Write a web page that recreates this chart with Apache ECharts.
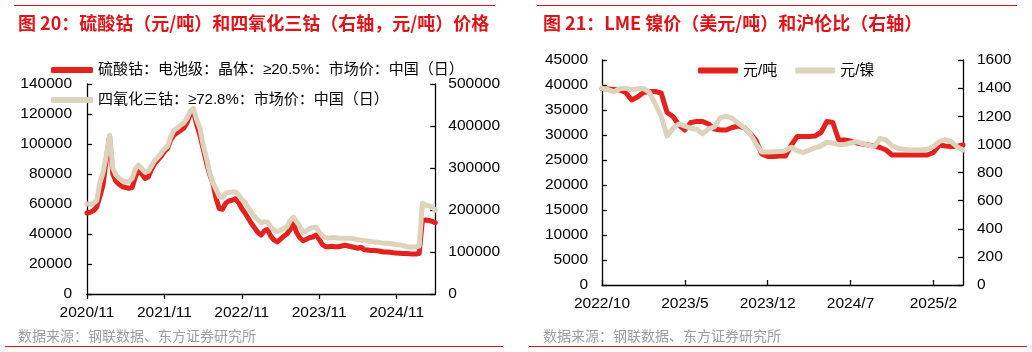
<!DOCTYPE html>
<html>
<head>
<meta charset="utf-8">
<script src="https://cdn.jsdelivr.net/npm/echarts@6/dist/echarts.min.js"></script>
<style>
  html, body { margin: 0; padding: 0; background: #fff; }
  #left { position: absolute; left: 0; top: 0; width: 503px; height: 352px; }
  #right { position: absolute; left: 520px; top: 0; width: 512px; height: 352px; }
</style>
</head>
<body>
<div id="left"></div>
<div id="right"></div>
<script>
// 半月一个点的日期轴
function halfMonths(year, month, count) {
  const out = [];
  for (let i = 0; i < count; i++) {
    const m = month - 1 + Math.floor(i / 2);
    const y = year + Math.floor(m / 12);
    out.push(y + '/' + (m % 12 + 1) + '/' + (i % 2 ? 16 : 1));
  }
  return out;
}

// 图20：硫酸钴（左轴）与四氧化三钴（右轴），2020/11 - 2025/5
const leftDates = halfMonths(2020, 11, 109);
const cobaltSulfate = [
  54000, 54500, 55500, 58000, 65000, 73000, 90000, 105000, 80000, 75000,
  73000, 71500, 71000, 70500, 71000, 78000, 83000, 80000, 77000, 78000,
  83000, 87000, 89500, 92000, 95000, 97000, 103000, 106000, 107500, 109000,
  110500, 114000, 120000, 121500, 113000, 106000, 97000, 88000, 80000, 74000,
  64000, 57000, 56500, 60500, 62000, 62500, 63500, 61000, 57000, 54000,
  50500, 47000, 44000, 41000, 39300, 42000, 43000, 38500, 36000, 34700,
  36500, 38500, 40000, 43000, 47000, 41000, 37500, 35500, 36500, 37500,
  38000, 39300, 36500, 33000, 31500, 31500, 31800, 31500, 31500, 32000,
  32500, 32000, 31500, 31000, 30500, 31200, 29500, 29300, 29000, 29000,
  28800, 28500, 28000, 28000, 27800, 27500, 27300, 27200, 27000, 27000,
  26800, 26700, 26700, 27000, 49000, 49300, 49000, 48500, 47500
];
const cobaltOxide = [
  214000, 214000, 216000, 222000, 265000, 290000, 330000, 378000, 300000, 283000,
  275000, 270000, 267000, 268000, 275000, 298000, 307000, 298000, 290000, 292000,
  305000, 318000, 326000, 335000, 345000, 352000, 375000, 390000, 395000, 402000,
  407000, 418000, 435000, 442000, 415000, 395000, 355000, 325000, 290000, 265000,
  250000, 232000, 230000, 240000, 242000, 243000, 243000, 236000, 225000, 218000,
  206000, 194000, 184000, 176000, 170000, 172000, 171000, 160000, 152000, 148000,
  152000, 156000, 160000, 175000, 183000, 172000, 162000, 146000, 150000, 156000,
  158000, 159000, 148000, 138000, 134000, 133000, 134000, 134000, 133000, 133000,
  133000, 133000, 132500, 131000, 129000, 128000, 127000, 126000, 125000, 124000,
  123000, 122000, 121000, 121000, 120000, 119000, 117000, 117000, 115000, 113000,
  112000, 112000, 112000, 114000, 216000, 212000, 210000, 207000, 200000
];

// 图21：LME镍价（左轴）与沪伦比（右轴），2022/10 - 2025/4
const rightDates = halfMonths(2022, 10, 62);
const lmeNickel = [
  39300, 39200, 39100, 39000, 38500, 37000, 37600, 38500, 38700, 38700,
  38400, 34500, 33700, 32000, 31000, 32500, 32700, 32700, 32200, 31200,
  31000, 31000, 31500, 31800, 31500, 30400, 29000, 26200, 25700, 25700,
  25800, 25800, 28000, 29700, 29700, 29700, 29800, 30500, 32700, 32500,
  29000, 29000, 28800, 28400, 28200, 28000, 27800, 27500, 27000, 26000,
  26000, 26000, 26000, 26000, 26000, 26000, 26500, 28000, 27800, 27700,
  27700, 28000
];
const shLmeRatio = [
  1399, 1390, 1375, 1395, 1400, 1387, 1395, 1398, 1370, 1290,
  1200, 1060, 1114, 1145, 1130, 1115, 1107, 1075, 1110, 1125,
  1190, 1200, 1185, 1150, 1120, 1080, 1005, 945, 945, 948,
  950, 955, 980, 955, 941, 958, 975, 990, 1015, 1010,
  998, 1000, 1010, 1019, 1005, 995, 985, 1043, 1031, 990,
  972, 965, 960, 960, 960, 965, 985, 1020, 1036, 1020,
  983, 960
];

const RED = '#E4211C';
const BEIGE = '#DDD3BC';
const TITLE_RED = '#DF1419';
const FONT = '"Liberation Sans", "Noto Sans CJK SC", sans-serif';
const CJK = '"Noto Sans CJK SC", sans-serif';

const monthLabel = v => v.split('/').slice(0, 2).join('/');
const plainNum = v => String(v);

function axisLine() {
  return { show: true, lineStyle: { color: '#000', width: 1.3 } };
}

function yAxis(max, interval, position, margin) {
  return {
    type: 'value',
    position: position,
    min: 0,
    max: max,
    interval: interval,
    axisLine: axisLine(),
    axisTick: { show: true, inside: true, length: 5, lineStyle: { color: '#000', width: 1.3 } },
    splitLine: { show: false },
    axisLabel: { color: '#000', fontSize: 15.5, margin: margin, formatter: plainNum }
  };
}

function xAxis(data, every, tickInside) {
  return {
    type: 'category',
    data: data,
    boundaryGap: false,
    axisLine: axisLine(),
    axisTick: { interval: every, inside: tickInside, length: 5, lineStyle: { color: '#000', width: 1.3 } },
    axisLabel: { interval: every, color: '#000', fontSize: 15.5, margin: 11, formatter: monthLabel }
  };
}

function lineSeries(name, data, color, axisIndex) {
  return {
    name: name,
    type: 'line',
    data: data,
    yAxisIndex: axisIndex,
    showSymbol: false,
    symbol: 'none',
    lineStyle: { color: color, width: 5, cap: 'round', join: 'round' },
    itemStyle: { color: color }
  };
}

function frame(title, titleX, topLine, bottomLine) {
  return [
    { type: 'line', shape: { x1: topLine[0], y1: 5.5, x2: topLine[1], y2: 5.5 }, style: { stroke: TITLE_RED, lineWidth: 1 } },
    { type: 'text', x: titleX, y: 23, style: { text: title, font: 'bold 18px ' + CJK, fill: TITLE_RED, verticalAlign: 'middle' } },
    { type: 'text', x: titleX, y: 336, style: { text: '数据来源：钢联数据、东方证券研究所', font: '14px ' + CJK, fill: '#9E9E9E', verticalAlign: 'middle' } },
    { type: 'line', shape: { x1: bottomLine[0], y1: 346.5, x2: bottomLine[1], y2: 346.5 }, style: { stroke: TITLE_RED, lineWidth: 1 } }
  ];
}

const leftChart = echarts.init(document.getElementById('left'));
leftChart.setOption({
  animation: false,
  textStyle: { fontFamily: FONT },
  grid: { left: 87, right: 63, top: 84, bottom: 58 },
  legend: {
    orient: 'vertical',
    left: 46,
    top: 57,
    itemWidth: 42,
    itemHeight: 6,
    itemGap: 14,
    icon: 'roundRect',
    textStyle: { color: '#000', fontSize: 15, lineHeight: 16, fontFamily: FONT }
  },
  xAxis: xAxis(leftDates, 23, false),
  yAxis: [yAxis(140000, 20000, 'left', 15), yAxis(500000, 100000, 'right', 13)],
  series: [
    lineSeries('硫酸钴：电池级：晶体：≥20.5%：市场价：中国（日）', cobaltSulfate, RED, 0),
    lineSeries('四氧化三钴：≥72.8%：市场价：中国（日）', cobaltOxide, BEIGE, 1)
  ],
  graphic: frame('图 20：硫酸钴（元/吨）和四氧化三钴（右轴，元/吨）价格', 18, [14, 495], [5, 503])
});

const rightChart = echarts.init(document.getElementById('right'));
rightChart.setOption({
  animation: false,
  textStyle: { fontFamily: FONT },
  grid: { left: 82, right: 69, top: 60, bottom: 67 },
  legend: {
    left: 173,
    top: 58,
    itemWidth: 40,
    itemHeight: 6,
    itemGap: 18,
    icon: 'roundRect',
    textStyle: { color: '#000', fontSize: 15, fontFamily: FONT }
  },
  xAxis: xAxis(rightDates, 13, true),
  yAxis: [yAxis(45000, 5000, 'left', 14), yAxis(1600, 200, 'right', 14)],
  series: [
    lineSeries('元/吨', lmeNickel, RED, 0),
    lineSeries('元/镍', shLmeRatio, BEIGE, 1)
  ],
  graphic: frame('图 21：LME 镍价（美元/吨）和沪伦比（右轴）', 23, [17, 497], [9, 507])
});
</script>
</body>
</html>
